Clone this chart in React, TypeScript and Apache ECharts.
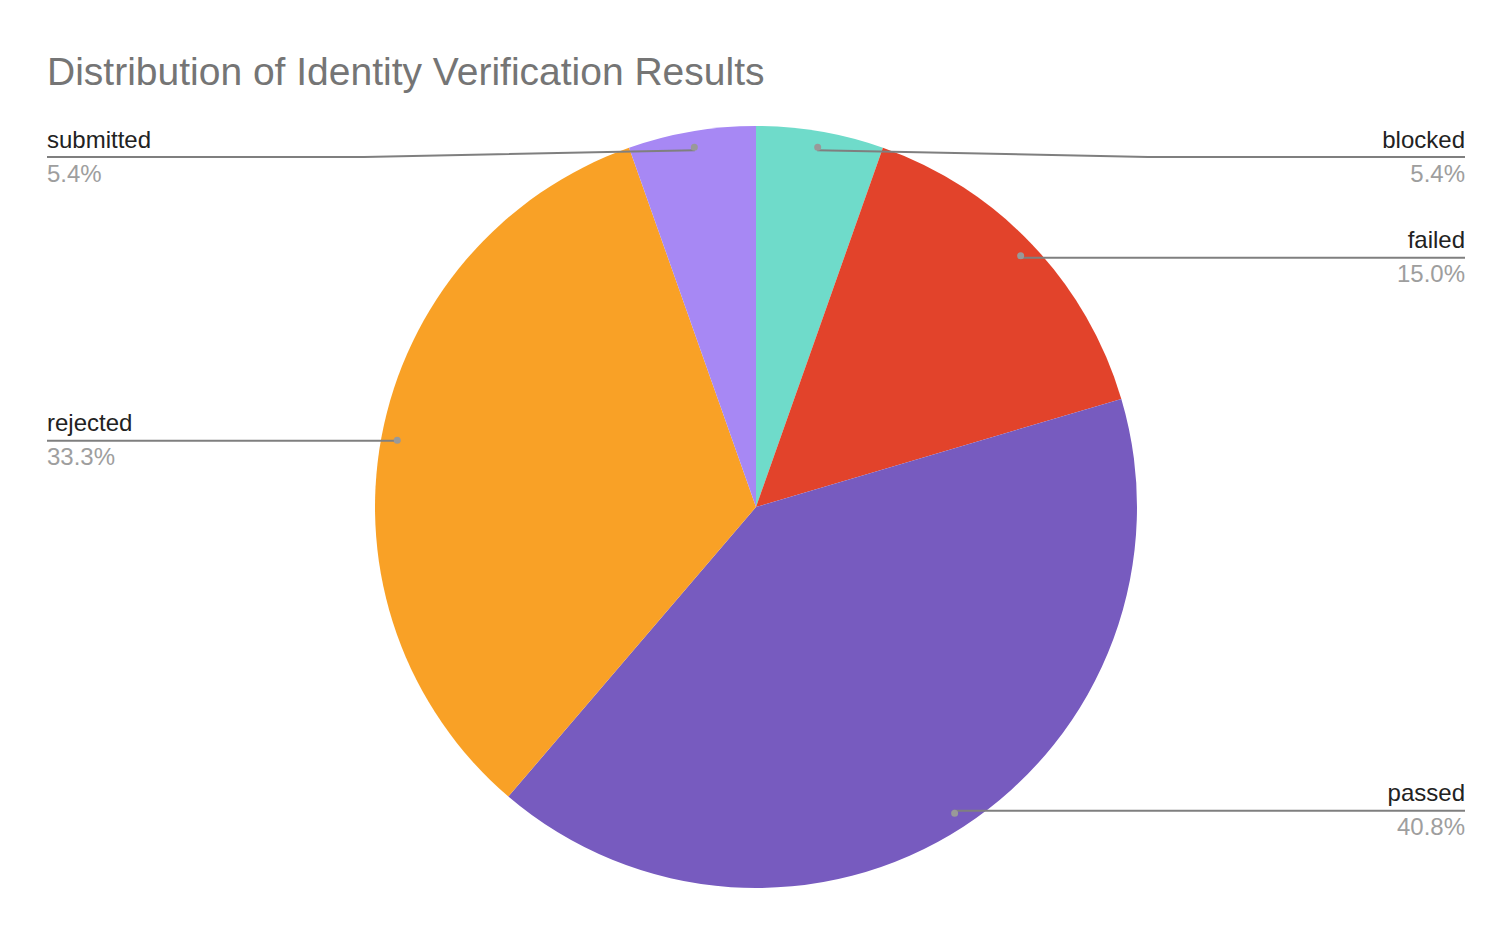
import React, { useEffect, useRef } from 'react';
import * as echarts from 'echarts';

// Values (percent of all verification results)
const categories = ['blocked', 'failed', 'passed', 'rejected', 'submitted'];
const shares = [5.4, 15.0, 40.8, 33.3, 5.4];

const TITLE = 'Distribution of Identity Verification Results';
const PALETTE = ['#6fdbca', '#e2432b', '#775bbf', '#f9a126', '#a788f4'];
const FONT = '"Liberation Sans", Arial, sans-serif';

// layout (chart-local pixels; the div sits at the body's 8px margin)
const WIDTH = 1496;
const HEIGHT = 920;
const CX = 748;
const CY = 499;
const R = 381;
const DOT_RATIO = 0.95;
const EDGE = 39;
const BEND = 317;
const LABEL_TOP = 149;

export default function App() {
  const chartRef = useRef<HTMLDivElement>(null);

  useEffect(() => {
    if (!chartRef.current) return;
    const chart = echarts.init(chartRef.current, null, { renderer: 'svg' });

    const data = categories.map((name, i) => ({ name, value: shares[i] }));
    const clear = { color: 'rgba(0,0,0,0)' };

    chart.setOption({
      animation: false,
      color: PALETTE,
      title: {
        text: TITLE,
        left: EDGE,
        top: 44,
        padding: 0,
        textStyle: {
          fontFamily: FONT,
          fontSize: 39,
          fontWeight: 'normal',
          color: '#757575',
        },
      },
      series: [
        {
          // coloured slices
          type: 'pie',
          z: 2,
          center: [CX, CY],
          radius: [0, R],
          startAngle: 90,
          clockwise: true,
          silent: true,
          data,
          label: { show: false },
          labelLine: { show: false },
        },
        {
          // labels and leader lines, drawn above the slices
          type: 'pie',
          z: 3,
          center: [CX, CY],
          radius: [0, R],
          startAngle: 90,
          clockwise: true,
          silent: true,
          data,
          itemStyle: clear,
          label: {
            show: true,
            position: 'outside',
            alignTo: 'edge',
            edgeDistance: EDGE,
            formatter: (p: any) =>
              `{name|${p.name}}\n{pct|${p.percent.toFixed(1)}%}`,
            rich: {
              name: {
                fontFamily: FONT,
                fontSize: 24,
                color: '#222222',
                lineHeight: 32,
              },
              pct: {
                fontFamily: FONT,
                fontSize: 24,
                color: '#9e9e9e',
                lineHeight: 36,
              },
            },
          },
          labelLine: {
            show: true,
            length: 20,
            length2: 20,
            lineStyle: { color: '#7f7f7f', width: 2 },
          },
          labelLayout: (params: any) => {
            const pts = params.labelLinePoints;
            if (!pts) return {};
            const [ox, oy] = pts[0];
            const dx = CX + (ox - CX) * DOT_RATIO;
            const dy = CY + (oy - CY) * DOT_RATIO;
            const isLeft = ox < CX;
            const y = Math.max(dy, LABEL_TOP);
            const edge = isLeft ? EDGE : WIDTH - EDGE;
            const bend = isLeft ? Math.min(dx, edge + BEND) : Math.max(dx, edge - BEND);
            return {
              y,
              labelLinePoints: [
                [dx, dy],
                [bend, y],
                [edge, y],
              ],
            };
          },
        },
        {
          // dots at the start of each leader line
          type: 'pie',
          z: 4,
          center: [CX, CY],
          radius: [R * 0.9, R],
          startAngle: 90,
          clockwise: true,
          silent: true,
          data,
          itemStyle: clear,
          label: {
            show: true,
            position: 'inside',
            formatter: '{dot|}',
            rich: {
              dot: {
                width: 7,
                height: 7,
                lineHeight: 7,
                fontSize: 7,
                borderRadius: 3.5,
                backgroundColor: '#999999',
              },
            },
          },
          labelLine: { show: false },
        },
      ],
    });

    return () => {
      chart.dispose();
    };
  }, []);

  return <div ref={chartRef} style={{ width: `${WIDTH}px`, height: `${HEIGHT}px` }} />;
}
